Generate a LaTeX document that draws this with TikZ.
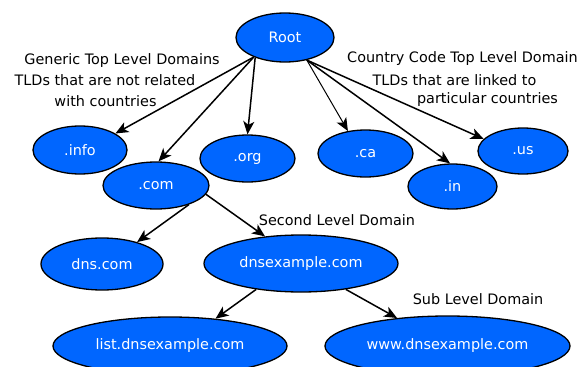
\documentclass[tikz,border=0pt]{standalone}
\usepackage{fontspec}
\setmainfont{DejaVu Sans}
\usetikzlibrary{shapes.geometric,arrows.meta}
\definecolor{dnsblue}{RGB}{0,102,255}
\begin{document}
\begin{tikzpicture}[x=1pt,y=1pt,yscale=-1,xscale=1,
	dom/.style={ellipse,draw=black,line width=1.3pt,fill=dnsblue,text=white,inner sep=0pt,font=\fontsize{14.4}{17}\selectfont},
	lbl/.style={inner sep=0pt,font=\fontsize{14.4}{17}\selectfont},
	link/.style={line width=1.5pt,-{Stealth[length=13pt,width=11pt,inset=3.5pt]}}]
	\useasboundingbox (0,0) rectangle (582,367);
	% top level
	\node[dom,minimum width=98pt,minimum height=49pt] (root) at (285,37.5) {Root};
	\node[dom,minimum width=94pt,minimum height=48pt] (dotinfo) at (80,150) {.info};
	\node[dom,minimum width=95pt,minimum height=47pt] (dotorg) at (247.5,158.5) {.org};
	\node[dom,minimum width=106pt,minimum height=47pt] (dotcom) at (156,185.5) {.com};
	\node[dom,minimum width=95pt,minimum height=47pt] (dotca) at (365.5,153.5) {.ca};
	\node[dom,minimum width=89pt,minimum height=45pt] (dotin) at (452.5,186.5) {.in};
	\node[dom,minimum width=90pt,minimum height=46pt] (dotus) at (523,151) {.us};
	% second and sub level
	\node[dom,minimum width=122pt,minimum height=52pt] (dns) at (102,264) {dns.com};
	\node[dom,minimum width=194pt,minimum height=57pt] (dnsex) at (301,263.5) {dnsexample.com};
	\node[dom,minimum width=234pt,minimum height=58pt] (list) at (170,346) {list.dnsexample.com};
	\node[dom,minimum width=245pt,minimum height=60pt] (www) at (447.5,346) {www.dnsexample.com};
	% labels
	\node[lbl] (gen1) at (122,61) {Generic Top Level Domains};
	\node[lbl] (gen2) at (105,80) {TLDs that are not related};
	\node[lbl] (gen3) at (105.5,101) {with countries};
	\node[lbl] (cc1) at (462.5,59) {Country Code Top Level Domain};
	\node[lbl] (cc2) at (454.5,80) {TLDs that are linked to};
	\node[lbl] (cc3) at (487.5,100) {particular countries};
	\node[lbl] (second) at (337,220) {Second Level Domain};
	\node[lbl] (sub) at (478,299) {Sub Level Domain};
	% arrows
	\draw[link] (root.212) -- (dotinfo.25);
	\draw[link] (root.212) -- (dotcom.84);
	\draw[link] (root.214) -- (dotorg.90);
	\draw[link,line width=1pt] (root.314) -- (dotca.128);
	\draw[link] (root.314) -- (dotin.96);
	\draw[link] (root.314) -- (dotus.163);
	\draw[link] (dotcom.330) -- (dns.32);
	\draw[link] (dotcom.350) -- (dnsex.143);
	\draw[link] (dnsex.210) -- (list.31);
	\draw[link] (dnsex.330) -- (www.151);
\end{tikzpicture}
\end{document}
